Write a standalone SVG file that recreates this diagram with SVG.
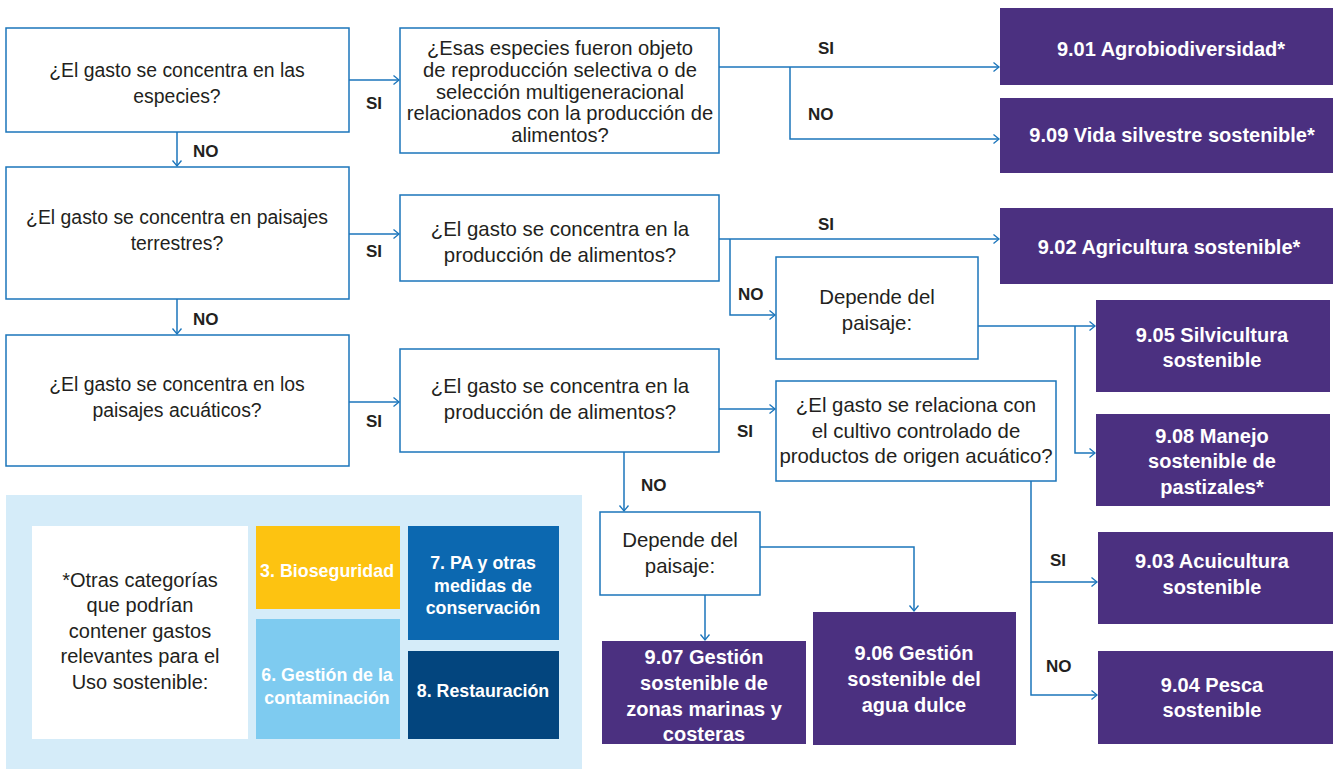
<svg xmlns="http://www.w3.org/2000/svg" width="1335" height="769" viewBox="0 0 1335 769">
<defs>
<marker id="arr" markerWidth="8" markerHeight="12" refX="6" refY="5" orient="auto" markerUnits="userSpaceOnUse">
<path d="M0.5,0.5 L6,5 L0.5,9.5" fill="none" stroke="#1B75BB" stroke-width="1.3"/>
</marker>
</defs>
<style>
.q{fill:#fff;stroke:#1B75BB;stroke-width:1.5}
.t{font-family:"Liberation Sans",Arial,sans-serif;font-size:19.4px;fill:#231F20;text-anchor:middle}
.tm{font-family:"Liberation Sans",Arial,sans-serif;font-size:20.4px;fill:#231F20;text-anchor:middle}
.ts{font-family:"Liberation Sans",Arial,sans-serif;font-size:20.2px;fill:#231F20;text-anchor:middle}
.tl{font-family:"Liberation Sans",Arial,sans-serif;font-size:20px;fill:#231F20;text-anchor:middle}
.p{fill:#4B3080}
.pt{font-family:"Liberation Sans",Arial,sans-serif;font-size:20px;font-weight:bold;fill:#fff;text-anchor:middle}
.lb{font-family:"Liberation Sans",Arial,sans-serif;font-size:17px;font-weight:bold;fill:#231F20}
.lt{font-family:"Liberation Sans",Arial,sans-serif;font-size:17.8px;font-weight:bold;fill:#fff;text-anchor:middle}
.c{fill:none;stroke:#1B75BB;stroke-width:1.5}
</style>
<rect width="1335" height="769" fill="#fff"/>

<g id="legend">
<rect x="6" y="495" width="576" height="274" fill="#D5ECF9"/>
<rect x="32" y="526" width="216" height="213" fill="#fff"/>
<text class="tl"><tspan x="140" y="587">*Otras categorías</tspan><tspan x="140" y="612">que podrían</tspan><tspan x="140" y="638">contener gastos</tspan><tspan x="140" y="663">relevantes para el</tspan><tspan x="140" y="689">Uso sostenible:</tspan></text>
<rect x="256" y="526" width="144" height="83" fill="#FDC311"/>
<text class="lt" x="327" y="577" textLength="134">3. Bioseguridad</text>
<rect x="256" y="619" width="144" height="120" fill="#7ECBF0"/>
<text class="lt"><tspan x="327" y="681">6. Gestión de la</tspan><tspan x="327" y="704">contaminación</tspan></text>
<rect x="408" y="526" width="151" height="114" fill="#0C68B0"/>
<text class="lt"><tspan x="483" y="569">7. PA y otras</tspan><tspan x="483" y="592">medidas de</tspan><tspan x="483" y="614">conservación</tspan></text>
<rect x="408" y="651" width="151" height="88" fill="#03457E"/>
<text class="lt" x="483" y="697">8. Restauración</text>
</g>

<g id="connectors">
<path class="c" d="M349,80 H399" marker-end="url(#arr)"/>
<path class="c" d="M177,132 V166" marker-end="url(#arr)"/>
<path class="c" d="M177,299 V334" marker-end="url(#arr)"/>
<path class="c" d="M349,234 H399" marker-end="url(#arr)"/>
<path class="c" d="M349,402 H399" marker-end="url(#arr)"/>
<path class="c" d="M719,67 H999" marker-end="url(#arr)"/>
<path class="c" d="M790,67 V139 H999" marker-end="url(#arr)"/>
<path class="c" d="M719,239 H999" marker-end="url(#arr)"/>
<path class="c" d="M730,239 V315 H775" marker-end="url(#arr)"/>
<path class="c" d="M978,326 H1095" marker-end="url(#arr)"/>
<path class="c" d="M1075,326 V453 H1095" marker-end="url(#arr)"/>
<path class="c" d="M719,409 H775" marker-end="url(#arr)"/>
<path class="c" d="M1031,481 V582 H1097" marker-end="url(#arr)"/>
<path class="c" d="M1031,582 V695 H1097" marker-end="url(#arr)"/>
<path class="c" d="M624,452 V511" marker-end="url(#arr)"/>
<path class="c" d="M760,547 H914 V611" marker-end="url(#arr)"/>
<path class="c" d="M705,595 V640" marker-end="url(#arr)"/>
<text class="lb" x="366" y="109">SI</text>
<text class="lb" x="193" y="157">NO</text>
<text class="lb" x="366" y="257">SI</text>
<text class="lb" x="193" y="325">NO</text>
<text class="lb" x="366" y="427">SI</text>
<text class="lb" x="818" y="54">SI</text>
<text class="lb" x="808" y="120">NO</text>
<text class="lb" x="818" y="230">SI</text>
<text class="lb" x="738" y="300">NO</text>
<text class="lb" x="737" y="437">SI</text>
<text class="lb" x="641" y="491">NO</text>
<text class="lb" x="1050" y="566">SI</text>
<text class="lb" x="1046" y="672">NO</text>
</g>

<g id="qA">
<rect class="q" x="6" y="28" width="343" height="104"/>
<text class="t"><tspan x="177" y="77">¿El gasto se concentra en las</tspan><tspan x="177" y="103">especies?</tspan></text>
</g>
<g id="qB">
<rect class="q" x="6" y="167" width="343" height="132"/>
<text class="t"><tspan x="177" y="224">¿El gasto se concentra en paisajes</tspan><tspan x="177" y="250">terrestres?</tspan></text>
</g>
<g id="qC">
<rect class="q" x="6" y="335" width="343" height="131"/>
<text class="t"><tspan x="177" y="391">¿El gasto se concentra en los</tspan><tspan x="177" y="417">paisajes acuáticos?</tspan></text>
</g>
<g id="qD">
<rect class="q" x="400" y="28" width="319" height="125"/>
<text class="ts"><tspan x="560" y="55">¿Esas especies fueron objeto</tspan><tspan x="560" y="77">de reproducción selectiva o de</tspan><tspan x="560" y="99">selección multigeneracional</tspan><tspan x="560" y="120">relacionados con la producción de</tspan><tspan x="560" y="142">alimentos?</tspan></text>
</g>
<g id="qE">
<rect class="q" x="400" y="195" width="319" height="86"/>
<text class="tm"><tspan x="560" y="236">¿El gasto se concentra en la</tspan><tspan x="560" y="262">producción de alimentos?</tspan></text>
</g>
<g id="qF">
<rect class="q" x="400" y="349" width="319" height="103"/>
<text class="tm"><tspan x="560" y="393">¿El gasto se concentra en la</tspan><tspan x="560" y="419">producción de alimentos?</tspan></text>
</g>
<g id="qG">
<rect class="q" x="776" y="257" width="202" height="102"/>
<text class="tm"><tspan x="877" y="304">Depende del</tspan><tspan x="877" y="330">paisaje:</tspan></text>
</g>
<g id="qH">
<rect class="q" x="776" y="381" width="280" height="100"/>
<text class="tm"><tspan x="916" y="412">¿El gasto se relaciona con</tspan><tspan x="916" y="438">el cultivo controlado de</tspan><tspan x="916" y="463">productos de origen acuático?</tspan></text>
</g>
<g id="qI">
<rect class="q" x="600" y="512" width="160" height="83"/>
<text class="tm"><tspan x="680" y="547">Depende del</tspan><tspan x="680" y="573">paisaje:</tspan></text>
</g>

<g id="r901">
<rect class="p" x="1000" y="8" width="333" height="77"/>
<text class="pt" x="1171" y="56">9.01 Agrobiodiversidad*</text>
</g>
<g id="r909">
<rect class="p" x="1000" y="98" width="333" height="75"/>
<text class="pt" x="1172" y="142">9.09 Vida silvestre sostenible*</text>
</g>
<g id="r902">
<rect class="p" x="1000" y="208" width="333" height="76"/>
<text class="pt" x="1169" y="254">9.02 Agricultura sostenible*</text>
</g>
<g id="r905">
<rect class="p" x="1096" y="300" width="234" height="92"/>
<text class="pt"><tspan x="1212" y="342">9.05 Silvicultura</tspan><tspan x="1212" y="367">sostenible</tspan></text>
</g>
<g id="r908">
<rect class="p" x="1096" y="414" width="234" height="92"/>
<text class="pt"><tspan x="1212" y="443">9.08 Manejo</tspan><tspan x="1212" y="468">sostenible de</tspan><tspan x="1212" y="494">pastizales*</tspan></text>
</g>
<g id="r903">
<rect class="p" x="1098" y="532" width="235" height="92"/>
<text class="pt"><tspan x="1212" y="568">9.03 Acuicultura</tspan><tspan x="1212" y="594">sostenible</tspan></text>
</g>
<g id="r904">
<rect class="p" x="1098" y="651" width="235" height="93"/>
<text class="pt"><tspan x="1212" y="692">9.04 Pesca</tspan><tspan x="1212" y="717">sostenible</tspan></text>
</g>
<g id="r907">
<rect class="p" x="602" y="641" width="204" height="103"/>
<text class="pt"><tspan x="704" y="664">9.07 Gestión</tspan><tspan x="704" y="690">sostenible de</tspan><tspan x="704" y="716">zonas marinas y</tspan><tspan x="704" y="741">costeras</tspan></text>
</g>
<g id="r906">
<rect class="p" x="813" y="612" width="203" height="133"/>
<text class="pt"><tspan x="914" y="660">9.06 Gestión</tspan><tspan x="914" y="686">sostenible del</tspan><tspan x="914" y="712">agua dulce</tspan></text>
</g>
</svg>
